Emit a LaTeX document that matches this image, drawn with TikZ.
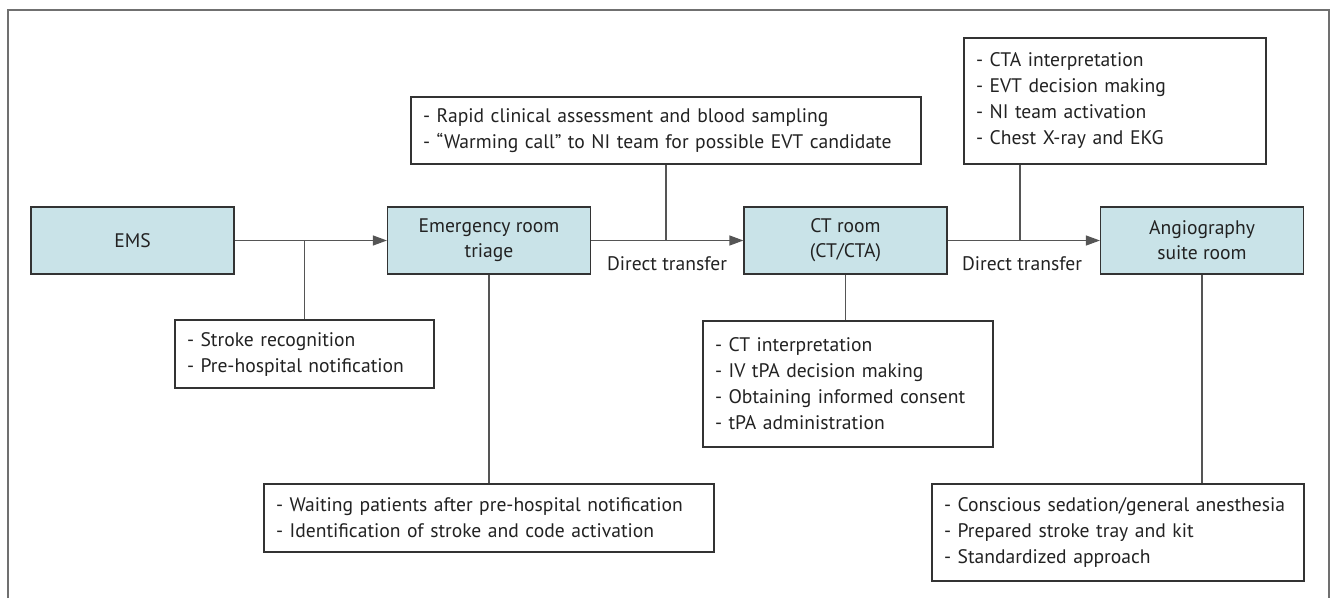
\documentclass[tikz,border=0pt]{standalone}
\usepackage{fontspec}
\setmainfont{PT Sans}
\usetikzlibrary{arrows.meta}
\definecolor{boxfill}{HTML}{C9E3E8}
\definecolor{edgec}{HTML}{333333}
\definecolor{connc}{HTML}{555555}
\definecolor{framec}{HTML}{707070}
\definecolor{txtc}{HTML}{222222}
\begin{document}
\begin{tikzpicture}[x=1pt,y=-1pt,
  every node/.style={font=\fontsize{19.6}{26}\selectfont, text=txtc},
  mainbox/.style={draw=edgec, fill=boxfill, line width=1.2pt, minimum width=203pt, minimum height=67pt, align=center, inner sep=0pt, font=\fontsize{19.6}{25}\selectfont},
  taskbox/.style={draw=edgec, fill=white, line width=1.2pt, inner xsep=12pt, inner ysep=0pt, align=left},
  link/.style={draw=connc, line width=1.2pt},
  arr/.style={link, -{Triangle[length=14pt,width=10pt]}}]
\useasboundingbox (0,0) rectangle (1333,598);
\draw[framec, line width=2pt] (8,598) -- (8,10) -- (1329,10) -- (1329,598);

% main boxes
\node[mainbox] (ems) at (132.5,240.5) {EMS};
\node[mainbox] (er) at (489,240.5) {Emergency room\\triage};
\node[mainbox] (ct) at (845.5,240.5) {CT room\\(CT/CTA)};
\node[mainbox] (angio) at (1202,240.5) {Angiography\\suite room};

% task boxes
\node[taskbox, text width=235pt, minimum height=68pt] (stroke) at (304.5,354)
  {- Stroke recognition\\- Pre-hospital notification};
\node[taskbox, text width=486pt, minimum height=67pt] (rapid) at (666,130.5)
  {- Rapid clinical assessment and blood sampling\\- “Warming call” to NI team for possible EVT candidate};
\node[taskbox, text width=278pt, minimum height=126pt] (cta) at (1115,101)
  {- CTA interpretation\\- EVT decision making\\- NI team activation\\- Chest X-ray and EKG};
\node[taskbox, text width=266pt, minimum height=126pt] (cttasks) at (848,384)
  {- CT interpretation\\- IV tPA decision making\\- Obtaining informed consent\\- tPA administration};
\node[taskbox, text width=426pt, minimum height=68pt] (wait) at (489,518)
  {- Waiting patients after pre-hospital notification\\- Identification of stroke and code activation};
\node[taskbox, text width=348pt, minimum height=97pt] (angiotasks) at (1118,532.5)
  {- Conscious sedation/general anesthesia\\- Prepared stroke tray and kit\\- Standardized approach};

% labels
\node[anchor=base] (dt1) at (667,270) {Direct transfer};
\node[anchor=base] (dt2) at (1022,270) {Direct transfer};

% connectors
\draw[arr] (ems.east) -- (er.west);
\draw[arr] (er.east) -- (ct.west);
\draw[arr] (ct.east) -- (angio.west);
\draw[link] (stroke.north) -- (stroke.north |- ems.east);
\draw[link] (rapid.south) -- (rapid.south |- er.east);
\coordinate (j3) at (1020,240.5);
\draw[link] (j3 |- cta.south) -- (j3);
\draw[link] (er.south) -- (er.south |- wait.north);
\draw[link] (ct.south) -- (ct.south |- cttasks.north);
\draw[link] (angio.south) -- (angio.south |- angiotasks.north);
\end{tikzpicture}
\end{document}
